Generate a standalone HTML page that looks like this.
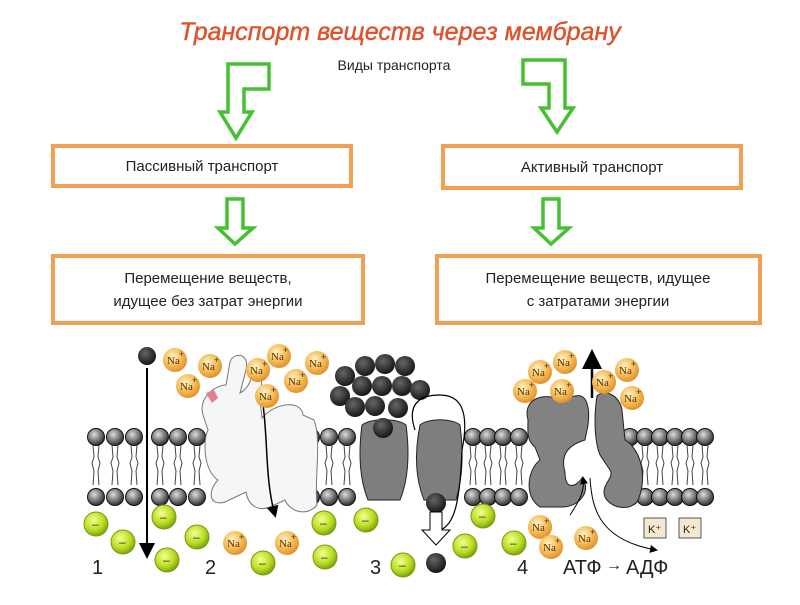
<!DOCTYPE html>
<html><head><meta charset="utf-8"><style>
body{margin:0;background:#fff;width:800px;height:600px;overflow:hidden;font-family:"Liberation Sans",sans-serif}
</style></head><body>
<svg width="800" height="600" viewBox="0 0 800 600" xmlns="http://www.w3.org/2000/svg" font-family="Liberation Sans, sans-serif">
<defs>
<radialGradient id="na" cx="0.4" cy="0.35" r="0.7"><stop offset="0" stop-color="#fff3c8"/><stop offset="0.5" stop-color="#f5c060"/><stop offset="1" stop-color="#e08a20"/></radialGradient>
<radialGradient id="gr" cx="0.4" cy="0.35" r="0.7"><stop offset="0" stop-color="#f4ff90"/><stop offset="0.6" stop-color="#b8dc20"/><stop offset="1" stop-color="#6e9a10"/></radialGradient>
<radialGradient id="bk" cx="0.4" cy="0.35" r="0.7"><stop offset="0" stop-color="#666"/><stop offset="1" stop-color="#111"/></radialGradient>
<radialGradient id="hd" cx="0.4" cy="0.35" r="0.7"><stop offset="0" stop-color="#ddd"/><stop offset="1" stop-color="#222"/></radialGradient>
<marker id="ah" markerWidth="8" markerHeight="8" refX="6" refY="4" orient="auto"><path d="M0,0 L8,4 L0,8z" fill="#000"/></marker>
<g id="lip"><circle cx="0" cy="0" r="8.5" fill="url(#hd)" stroke="#111"/><path d="M-3,8 l1,12 l-2,6 l2,8 l-1,14 M3,8 l-1,12 l2,6 l-2,8 l1,14" stroke="#444" fill="none" stroke-width="1"/><circle cx="0" cy="60" r="8.5" fill="url(#hd)" stroke="#111"/></g>
<g id="na1"><circle r="12" fill="url(#na)"/><text x="-8" y="4" font-family="Liberation Serif,serif" font-size="11" fill="#5a3000">Na</text><text x="4" y="-3" font-size="9" fill="#5a3000">+</text></g>
<g id="g1"><circle r="12" fill="url(#gr)" stroke="#7a9a10"/><text x="-4" y="4" font-size="12" fill="#333">–</text></g>
</defs>
<text x="400" y="40" text-anchor="middle" font-size="25" font-style="italic" fill="#e0502a" stroke="#e0502a" stroke-width="0.4">Транспорт веществ через мембрану</text>
<text x="394" y="70" text-anchor="middle" font-size="14" fill="#222">Виды транспорта</text>
<g fill="#fff" stroke="#44c030" stroke-width="3.5" stroke-linejoin="miter">
<path d="M228,64 L269,64 L269,89 L244,89 L244,112 L252,112 L236,138 L220,112 L228,112Z"/>
<path d="M523,60 L565,60 L565,108 L573,108 L557,132 L541,108 L549,108 L549,84 L523,84Z"/>
<path d="M227,199 L243,199 L243,228 L253,228 L235,244 L218,228 L227,228Z"/>
<path d="M543,199 L559,199 L559,228 L569,228 L551,244 L534,228 L543,228Z"/>
</g>
<g fill="#fff" stroke="#f0a050" stroke-width="4">
<rect x="53" y="146" width="298" height="40"/>
<rect x="443" y="146" width="298" height="42"/>
<rect x="53" y="256" width="310" height="67"/>
<rect x="437" y="256" width="323" height="67"/>
</g>
<g font-size="15" fill="#222" text-anchor="middle">
<text x="202" y="171">Пассивный транспорт</text>
<text x="592" y="172">Активный транспорт</text>
<text x="208" y="283">Перемещение веществ,</text>
<text x="208" y="306">идущее без затрат энергии</text>
<text x="598" y="283">Перемещение веществ, идущее</text>
<text x="598" y="306">с затратами энергии</text>
</g>
<g>
<use href="#lip" x="96" y="437"/><use href="#lip" x="115" y="437"/><use href="#lip" x="134" y="437"/>
<use href="#lip" x="160" y="437"/><use href="#lip" x="178" y="437"/><use href="#lip" x="197" y="437"/>
<use href="#lip" x="311" y="437"/><use href="#lip" x="329" y="437"/><use href="#lip" x="347" y="437"/>
<use href="#lip" x="473" y="437"/><use href="#lip" x="488" y="437"/><use href="#lip" x="503" y="437"/><use href="#lip" x="519" y="437"/>
<use href="#lip" x="630" y="437"/><use href="#lip" x="645" y="437"/><use href="#lip" x="660" y="437"/><use href="#lip" x="675" y="437"/><use href="#lip" x="690" y="437"/><use href="#lip" x="705" y="437"/>
</g>
<circle cx="147" cy="356" r="9" fill="url(#bk)"/>
<line x1="147" y1="368" x2="147" y2="555" stroke="#000" stroke-width="2" marker-end="url(#ah)"/>
<path d="M203,415 C198,398 215,385 226,385 L230,362 C233,352 250,352 246,370 L240,393 C250,388 255,372 252,362 C260,355 264,378 260,400 L262,418 C275,402 302,400 303,415 L314,420 C322,440 314,480 317,505 C307,517 290,512 285,500 L270,507 C258,512 248,505 246,492 L225,502 C208,507 208,490 218,480 C203,470 203,440 208,430Z" fill="#f4f6f8" stroke="#777"/>
<path d="M263,405 C268,440 265,480 275,515" stroke="#000" fill="none" stroke-width="1.5" marker-end="url(#ah)"/>
<path d="M206,393 l8,-3 l4,8 l-6,5z" fill="#e08090"/>
<g fill="url(#bk)">
<circle cx="345" cy="376" r="10"/><circle cx="365" cy="366" r="10"/><circle cx="385" cy="364" r="10"/><circle cx="405" cy="366" r="10"/>
<circle cx="340" cy="396" r="10"/><circle cx="362" cy="386" r="10"/><circle cx="382" cy="386" r="10"/><circle cx="402" cy="386" r="10"/><circle cx="420" cy="390" r="10"/>
<circle cx="355" cy="407" r="10"/><circle cx="375" cy="406" r="10"/><circle cx="398" cy="408" r="10"/>
<circle cx="383" cy="428" r="10"/><circle cx="436" cy="563" r="10"/>
</g>
<path d="M362,425 C372,418 398,418 406,425 C410,455 408,480 400,500 L368,500 C360,480 358,455 362,425Z" fill="#7e7e7e" stroke="#222"/>
<path d="M420,425 C428,418 452,418 460,425 C464,455 462,480 456,500 L424,500 C416,480 414,455 420,425Z" fill="#7e7e7e" stroke="#222"/>
<circle cx="383" cy="428" r="10" fill="url(#bk)"/>
<circle cx="436" cy="503" r="10" fill="url(#bk)"/>
<path d="M415,430 C405,400 425,395 440,395 C460,395 470,410 462,450 C460,500 455,525 440,530" fill="none" stroke="#000" stroke-width="1.2"/>
<path d="M430,512 L442,512 L442,530 L450,530 L436,545 L422,530 L430,530Z" fill="#fff" stroke="#000"/>
<path d="M528,420 C522,398 545,392 560,400 L575,396 C588,393 590,410 588,425 L585,440 C568,445 560,455 565,472 C565,490 575,488 582,478 C592,490 580,508 560,507 L540,507 C524,497 527,470 540,460 L535,447 C526,440 528,430 528,420Z" fill="#828282" stroke="#222"/>
<path d="M597,396 C605,388 620,396 622,410 L625,440 C642,450 648,480 637,502 C627,512 610,507 605,497 C600,485 615,478 610,470 L600,455 C594,440 594,415 597,396Z" fill="#828282" stroke="#222"/>
<line x1="592" y1="398" x2="592" y2="354" stroke="#000" stroke-width="2.5" marker-end="url(#ah)"/>
<path d="M570,515 C580,500 585,490 583,478" fill="none" stroke="#000" marker-end="url(#ah)"/>
<path d="M590,478 C592,510 600,540 656,550" fill="none" stroke="#000" marker-end="url(#ah)"/>
<use href="#na1" x="175" y="360"/><use href="#na1" x="210" y="366"/><use href="#na1" x="188" y="386"/>
<use href="#na1" x="279" y="356"/><use href="#na1" x="258" y="370"/><use href="#na1" x="296" y="381"/><use href="#na1" x="317" y="363"/><use href="#na1" x="267" y="396"/>
<use href="#na1" x="235" y="543"/><use href="#na1" x="287" y="543"/>
<use href="#na1" x="540" y="372"/><use href="#na1" x="565" y="362"/><use href="#na1" x="525" y="391"/><use href="#na1" x="562" y="391"/>
<use href="#na1" x="604" y="382"/><use href="#na1" x="627" y="370"/><use href="#na1" x="632" y="398"/>
<use href="#na1" x="540" y="527"/><use href="#na1" x="551" y="547"/><use href="#na1" x="586" y="538"/>
<use href="#g1" x="96" y="524"/><use href="#g1" x="123" y="542"/><use href="#g1" x="164" y="517"/><use href="#g1" x="167" y="560"/>
<use href="#g1" x="197" y="537"/><use href="#g1" x="263" y="563"/><use href="#g1" x="324" y="523"/><use href="#g1" x="325" y="557"/>
<use href="#g1" x="366" y="520"/><use href="#g1" x="403" y="565"/><use href="#g1" x="483" y="516"/><use href="#g1" x="465" y="546"/><use href="#g1" x="514" y="543"/>
<g font-size="11" fill="#222"><rect x="644" y="518" width="22" height="20" fill="#f5e8d0" stroke="#555"/><text x="648" y="533">K⁺</text>
<rect x="679" y="518" width="22" height="20" fill="#f5e8d0" stroke="#555"/><text x="683" y="533">K⁺</text></g>
<g font-size="20" fill="#222">
<text x="92" y="574">1</text><text x="205" y="574">2</text><text x="370" y="574">3</text><text x="517" y="574">4</text>
<text x="563" y="574">АТФ</text><text x="606" y="570" font-size="16">→</text><text x="626" y="574">АДФ</text>
</g>
</svg>
</body></html>
